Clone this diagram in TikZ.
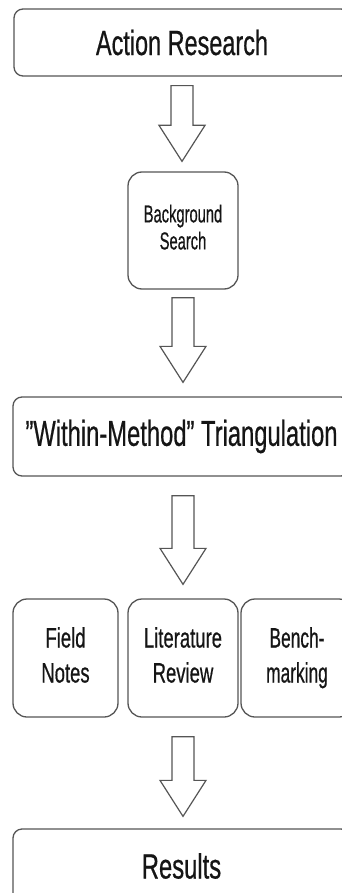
\documentclass[tikz,border=0pt]{standalone}
\usepackage{fontspec}
\setmainfont{Liberation Sans}[FakeBold=0.7]
\usetikzlibrary{calc}
\definecolor{edge}{HTML}{555555}
\definecolor{ink}{HTML}{151515}
\newcommand{\sq}[2]{\scalebox{#1}[1]{#2}}
\newcommand{\sqt}[2]{\scalebox{#1}[1]{\begin{tabular}{@{}c@{}}#2\end{tabular}}}
\newcommand{\blockarrow}[2]{%
  \draw[blk] let \p1=(#1), \p2=(#2) in
    (\x1-11pt,\y1) -- (\x1+11pt,\y1) -- (\x1+11pt,\y2+36pt) -- (\x1+23pt,\y2+36pt)
    -- (\x1,\y2) -- (\x1-23pt,\y2+36pt) -- (\x1-11pt,\y2+36pt) -- cycle;}
\begin{document}
\begin{tikzpicture}[x=1pt,y=-1pt,
  box/.style={draw=edge, line width=1.3pt, rounded corners=9pt, inner sep=0pt, text=ink, fill=white},
  smallbox/.style={box, rounded corners=14pt},
  blk/.style={draw=edge, line width=1.2pt, fill=white, line join=miter}]
\clip (0,0) rectangle (342,893);
\fill[white] (0,0) rectangle (342,893);
\node[box, minimum width=336pt, minimum height=67pt, font=\fontsize{35}{42}\selectfont] (ar) at (182,42.5) {\sq{0.67}{Action Research}};
\node[smallbox, minimum width=110pt, minimum height=117pt, font=\fontsize{24.5}{27}\selectfont] (bg) at (183,230.5) {\sqt{0.6}{Background\\Search}};
\node[box, minimum width=337pt, minimum height=79pt, font=\fontsize{36}{43}\selectfont] (tri) at (181.5,436.5) {\sq{0.66}{\char34 Within-Method\char34\ Triangulation}};
\node[smallbox, minimum width=105pt, minimum height=118pt, font=\fontsize{28}{35}\selectfont] (fn) at (65.5,658) {\sqt{0.66}{Field\\Notes}};
\node[smallbox, minimum width=110pt, minimum height=118pt, font=\fontsize{28}{35}\selectfont] (lit) at (183,658) {\sqt{0.66}{Literature\\Review}};
\node[smallbox, minimum width=112pt, minimum height=118pt, font=\fontsize{28}{35}\selectfont] (bm) at (297,658) {\sqt{0.62}{Bench-\\marking}};
\node[box, minimum width=337pt, minimum height=74pt, font=\fontsize{35}{42}\selectfont] (res) at (181.5,866) {\sq{0.68}{Results}};
\blockarrow{$(ar.south)+(0,9)$}{$(bg.north)+(0,-10)$}
\blockarrow{$(bg.south)+(0,8)$}{$(tri.north)+(0,-14)$}
\blockarrow{$(tri.south)+(1.5,19)$}{$(lit.north)+(0,-14)$}
\blockarrow{$(lit.south)+(0,19)$}{$(res.north)+(0,-12)$}
\end{tikzpicture}
\end{document}
